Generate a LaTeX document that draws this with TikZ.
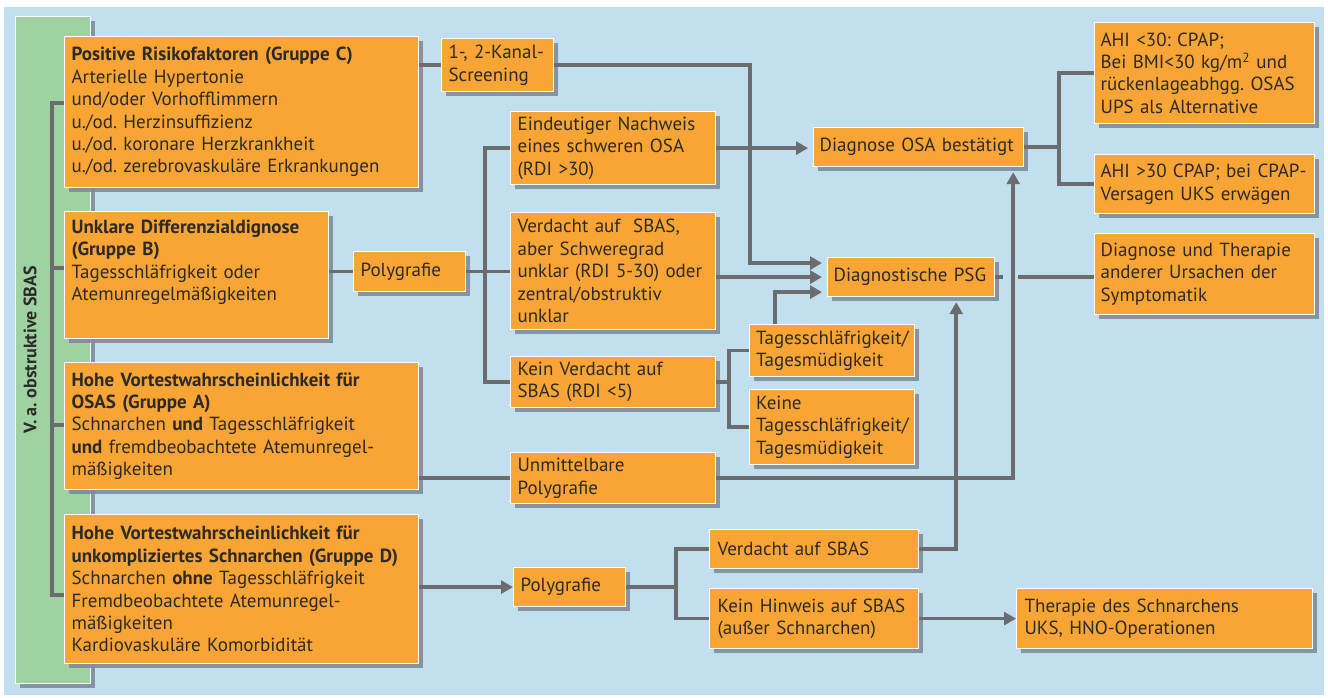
\documentclass[tikz,border=0pt]{standalone}
\usepackage{fontspec}
\setmainfont{PT Sans}
\usetikzlibrary{arrows.meta,shadows}
\frenchspacing

\definecolor{bgblue}{HTML}{C2DFEF}
\definecolor{boxorange}{HTML}{F8A535}
\definecolor{bargreen}{HTML}{9ED2A0}
\definecolor{linegray}{HTML}{6B6C6E}
\definecolor{shadegray}{HTML}{7E8D99}
\definecolor{txtdark}{HTML}{2B2A29}

\tikzset{
  box/.style={draw=white, line width=1.2pt, fill=boxorange, anchor=north west,
    align=left, inner xsep=7pt, inner ysep=0pt, text=txtdark,
    font=\fontsize{19}{22.4}\selectfont,
    drop shadow={shadow xshift=4pt, shadow yshift=-4pt, fill=shadegray, opacity=.9}},
  bar/.style={draw=white, line width=1.2pt, fill=bargreen, anchor=north west,
    minimum width=75pt, minimum height=667pt, inner sep=0pt,
    drop shadow={shadow xshift=4pt, shadow yshift=-4pt, fill=shadegray, opacity=.9}},
  link/.style={draw=linegray, line width=3.5pt},
  arr/.style={link, -{Triangle[length=12pt,width=13pt]}, shorten >=5pt},
}

\begin{document}
\begin{tikzpicture}[x=1pt, y=-1pt]
\useasboundingbox (0,0) rectangle (1328,698);
\fill[bgblue] (4,7) rectangle (1324,695);

% left bar
\node[bar] (bar) at (15,16) {};
\node[rotate=90, text=txtdark, font=\fontsize{18}{20}\selectfont\bfseries] (barlabel) at (30,350) {V. a. obstruktive SBAS};

% groups
\node[box, text width=340pt, minimum height=151pt] (grpC) at (64,36) {\textbf{Positive Risikofaktoren (Gruppe C)}\\Arterielle Hypertonie\\und/oder Vorhofflimmern\\u./od. Herzinsuffizienz\\u./od. koronare Herzkrankheit\\u./od. zerebrovaskuläre Erkrankungen};
\node[box, text width=250pt, minimum height=127pt] (grpB) at (64,211) {\textbf{Unklare Differenzialdignose}\\\textbf{(Gruppe B)}\\Tagesschläfrigkeit oder\\Atemunregelmäßigkeiten\\[7pt]\mbox{}};
\node[box, text width=340pt, minimum height=127pt] (grpA) at (64,362) {\textbf{Hohe Vortestwahrscheinlichkeit für}\\\textbf{OSAS (Gruppe A)}\\Schnarchen \textbf{und} Tagesschläfrigkeit\\\textbf{und} fremdbeobachtete Atemunregel-\\mäßigkeiten};
\node[box, text width=340pt, minimum height=149pt] (grpD) at (64,514) {\textbf{Hohe Vortestwahrscheinlichkeit für}\\\textbf{unkompliziertes Schnarchen (Gruppe D)}\\Schnarchen \textbf{ohne} Tagesschläfrigkeit\\Fremdbeobachtete Atemunregel-\\mäßigkeiten\\Kardiovaskuläre Komorbidität};

% middle column
\node[box, text width=98pt, minimum height=53pt] (screen) at (441,38) {1-, 2-Kanal-\\Screening};
\node[box, text width=98pt, minimum height=40pt] (polyB) at (353,251) {Polygrafie};
\node[box, text width=191pt, minimum height=73pt] (eind) at (510,111) {Eindeutiger Nachweis\\eines schweren OSA\\(RDI >30)};
\node[box, text width=191pt, minimum height=117pt] (verd) at (510,212) {Verdacht auf\ \ SBAS,\\aber Schweregrad\\unklar (RDI 5-30) oder\\zentral/obstruktiv\\unklar};
\node[box, text width=191pt, minimum height=51pt] (kein) at (510,356) {Kein Verdacht auf\\SBAS (RDI <5)};
\node[box, text width=191pt, minimum height=51pt] (unmit) at (510,452) {Unmittelbare\\Polygrafie};
\node[box, text width=98pt, minimum height=39pt] (polyD) at (513,567) {Polygrafie};
\node[box, text width=152pt, minimum height=52pt, inner xsep=6.5pt] (tsch) at (749,324) {Tagesschläfrigkeit/\\Tagesmüdigkeit};
\node[box, text width=152pt, minimum height=75pt, inner xsep=6.5pt] (keine) at (749,389) {Keine\\Tagesschläfrigkeit/\\Tagesmüdigkeit};
\node[box, text width=193pt, minimum height=39pt, inner xsep=8pt] (vsbas) at (709,529) {Verdacht auf SBAS};
\node[box, text width=193pt, minimum height=60pt, inner xsep=8pt] (khin) at (709,588) {Kein Hinweis auf SBAS\\(außer Schnarchen)};

% right column
\node[box, text width=198pt, minimum height=39pt, inner xsep=6pt] (dosa) at (813,127) {Diagnose OSA bestätigt};
\node[box, text width=155pt, minimum height=39pt, inner xsep=6pt] (psg) at (827,257) {Diagnostische PSG};
\node[box, text width=208pt, minimum height=101pt, inner xsep=6pt] (ahi1) at (1094,22) {AHI <30: CPAP;\\Bei BMI<30 kg/m\textsuperscript{2} und\\rückenlageabhgg. OSAS\\UPS als Alternative};
\node[box, text width=208pt, minimum height=59pt, inner xsep=6pt] (ahi2) at (1094,154) {AHI >30 CPAP; bei CPAP-\\Versagen UKS erwägen};
\node[box, text width=208pt, minimum height=81pt, inner xsep=6pt] (dther) at (1094,233) {Diagnose und Therapie\\anderer Ursachen der\\Symptomatik};
\node[box, text width=280pt, minimum height=60pt, inner xsep=8pt] (ther) at (1016,588) {Therapie des Schnarchens\\UKS, HNO-Operationen};

% trunk on the bar
\coordinate (trC) at (52,103);
\coordinate (trB) at (52,268);
\coordinate (trA) at (52,425);
\coordinate (trD) at (52,595);
\draw[link] (trC -| grpC.west) -- (trC) -- (trD) -- (trD -| grpD.west);
\draw[link] (trB) -- (trB -| grpB.west);
\draw[link] (trA) -- (trA -| grpA.west);

% group C
\draw[link] (grpC.east |- screen.west) -- (screen.west);
\draw[arr] (screen.east) -- ++(196,0) |- ([yshift=14pt]psg.west);

% group B
\coordinate (fork) at (485,270);
\draw[link] (grpB.east |- polyB.west) -- (polyB.west);
\draw[link] (polyB.east) -- (polyB.east -| verd.west);
\draw[link] (eind.west) -| (fork) |- (kein.west);
\draw[arr] (eind.east) -- (eind.east -| dosa.west);
\draw[arr] (verd.east |- psg.west) -- (psg.west);
\draw[link] (kein.east) -- ++(13,0) coordinate (k2);
\draw[link] (tsch.west) -| (k2) |- (keine.west);
\draw[arr] ([xshift=26pt]tsch.north west) |- ([yshift=-15pt]psg.west);

% group A
\draw[link] (grpA.east |- unmit.west) -- (unmit.west);
\draw[arr] (unmit.east) -| ([xshift=-11pt]dosa.south east);

% group D
\draw[arr, shorten >=0pt] (grpD.east |- polyD.west) -- (polyD.west);
\draw[link] (polyD.east) -- ++(50,0) coordinate (k3);
\draw[link] (vsbas.west) -| (k3) |- (khin.west);
\draw[arr] (vsbas.east) -| ([xshift=-39pt]psg.south east);
\draw[arr, shorten >=0pt] (khin.east) -- (khin.east -| ther.west);

% results
\draw[link] (dosa.east) -- ++(35,0) coordinate (k4);
\draw[link] (ahi1.west) -| (k4) |- (ahi2.west);
\draw[link] (psg.east) -- ++(8,0) ++(15,0) -- (psg.east -| dther.west);
\end{tikzpicture}
\end{document}
